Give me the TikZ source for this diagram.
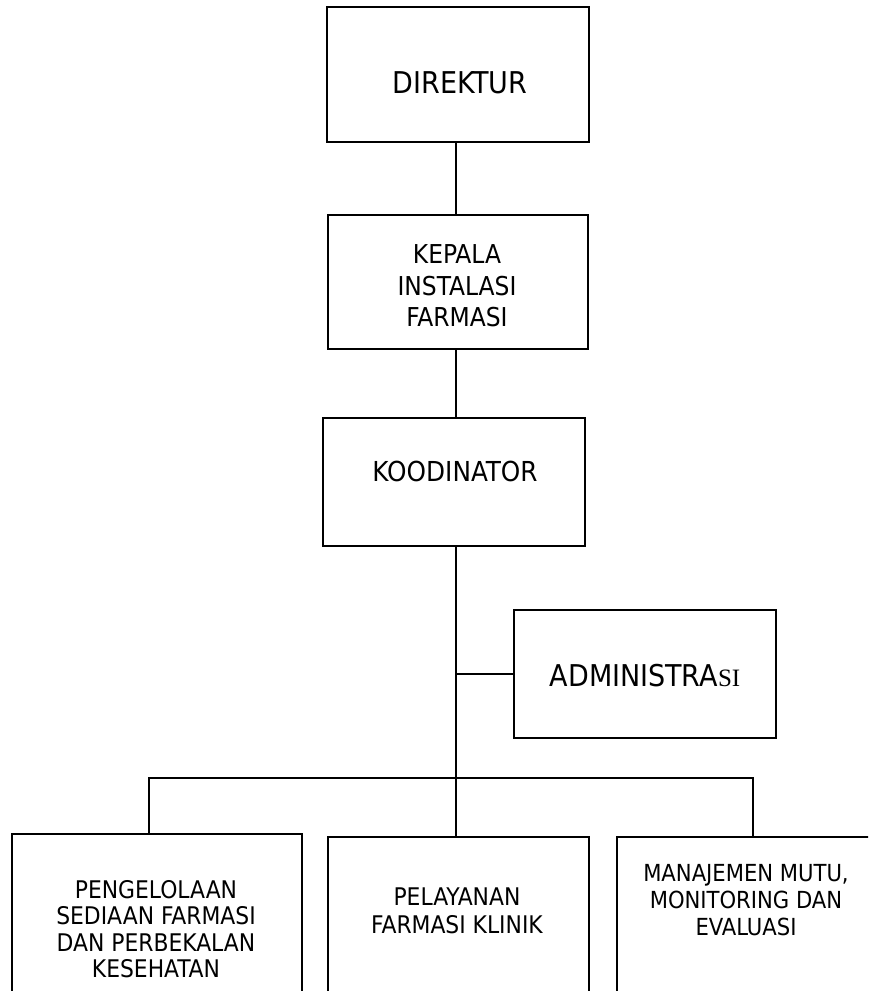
\documentclass[tikz,border=0pt]{standalone}
\usepackage{fontspec}
\setmainfont{DejaVu Sans Condensed}
\newfontfamily\serifpart{Liberation Serif}
\usetikzlibrary{calc}

\tikzset{
  orgbox/.style={draw=black, line width=2.4pt, rectangle, inner sep=0pt},
  orgtext/.style={align=center, inner sep=0pt, text=black},
  link/.style={draw=black, line width=2.4pt}
}

\begin{document}
\begin{tikzpicture}[x=1pt, y=-1pt]
  \clip (0,0) rectangle (868,991);
  \fill[white] (0,0) rectangle (868,991);

  % boxes (size and centre given in px of the page)
  \node[orgbox, minimum width=262pt, minimum height=135pt] (dir) at (458,74.5) {};
  \node[orgbox, minimum width=260pt, minimum height=134pt] (kepala) at (458,282) {};
  \node[orgbox, minimum width=262pt, minimum height=128pt] (koord) at (454,482) {};
  \node[orgbox, minimum width=262pt, minimum height=128pt] (admin) at (645,674) {};
  \node[orgbox, minimum width=290pt, minimum height=200pt] (psf) at (157,934) {};
  \node[orgbox, minimum width=261pt, minimum height=200pt] (pfk) at (458.5,937) {};
  \node[orgbox, minimum width=300pt, minimum height=200pt] (mmm) at (767,937) {};

  % labels
  \node[orgtext, font=\fontsize{30}{34}\selectfont] (tdir) at (460,83) {DIREKTUR};
  \node[orgtext, font=\fontsize{26}{31.5}\selectfont] (tkepala) at (457,286) {KEPALA\\INSTALASI\\FARMASI};
  \node[orgtext, font=\fontsize{27.5}{30}\selectfont] (tkoord) at (455,471) {KOODINATOR};
  \node[orgtext, font=\fontsize{30}{33}\selectfont] (tadmin) at (645,675.5)
    {ADMINISTRA{\serifpart\fontsize{25}{28}\selectfont SI}};
  \node[orgtext, font=\fontsize{24.3}{26.5}\selectfont] (tpsf) at (156,929)
    {PENGELOLAAN\\SEDIAAN FARMASI\\DAN PERBEKALAN\\KESEHATAN};
  \node[orgtext, font=\fontsize{24.3}{27.5}\selectfont] (tpfk) at (457,911)
    {PELAYANAN\\FARMASI KLINIK};
  \node[orgtext, font=\fontsize{23.5}{27}\selectfont] (tmmm) at (746,900)
    {MANAJEMEN MUTU,\\MONITORING DAN\\EVALUASI};

  % connector skeleton
  \coordinate (spine) at (456,0);
  \coordinate (busL) at (149,778);
  \coordinate (busM) at (456,778);
  \coordinate (busR) at (753,778);

  \draw[link] (dir.south -| spine) -- (kepala.north -| spine);
  \draw[link] (kepala.south -| spine) -- (koord.north -| spine);
  \draw[link] (koord.south -| spine) -- (busM);
  \draw[link] (admin.west -| spine) -- (admin.west);
  \draw[link, line cap=rect] (busL) -- (busR);
  \draw[link] (busL) -- (psf.north -| busL);
  \draw[link] (busM) -- (pfk.north -| busM);
  \draw[link] (busR) -- (mmm.north -| busR);
\end{tikzpicture}
\end{document}
